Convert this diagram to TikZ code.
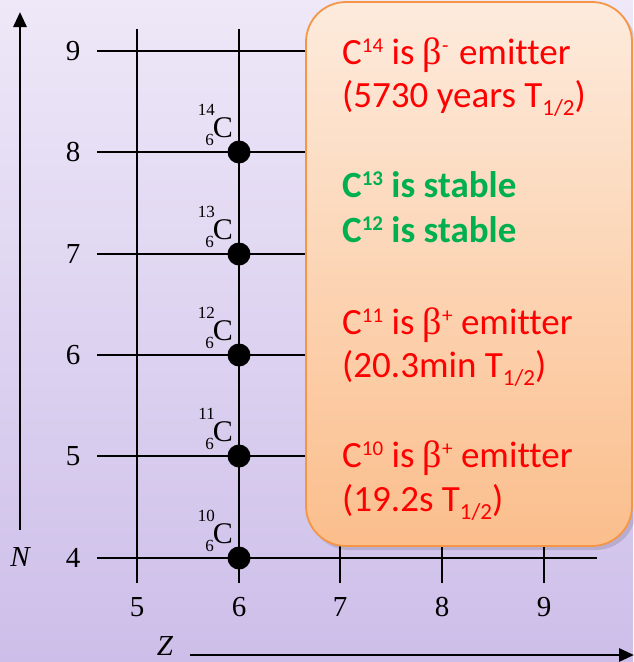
\documentclass[tikz,border=0pt]{standalone}
\usepackage{fontspec}
\setmainfont{Liberation Serif}
\newfontfamily\boxfont[Ligatures=NoCommon]{Carlito}
\newfontfamily\betafont{Liberation Serif}
\usetikzlibrary{arrows.meta}
\definecolor{bgtop}{RGB}{238,232,248}
\definecolor{bgbot}{RGB}{205,190,233}
\definecolor{boxtop}{RGB}{253,235,221}
\definecolor{boxbot}{RGB}{251,190,140}
\definecolor{boxline}{RGB}{245,150,70}
\definecolor{txtred}{RGB}{255,0,0}
\definecolor{txtgreen}{RGB}{0,176,80}
\newcommand\myup[1]{\raisebox{11.5pt}{\fontsize{21}{21}\selectfont #1}}
\newcommand\mydown[1]{\raisebox{-8.5pt}{\fontsize{23}{23}\selectfont #1}}
\newcommand\mybeta{{\betafont\fontsize{38}{38}\selectfont β}}
\begin{document}
\begin{tikzpicture}[x=1pt,y=-1pt,
  gridline/.style={line width=2.9pt,black},
  axisline/.style={line width=2.9pt,black,-{Triangle[length=15pt,width=13pt]}},
  ticklab/.style={font=\fontsize{29}{29}\selectfont,inner sep=0pt},
  axlab/.style={font=\fontsize{29}{29}\selectfont\itshape,inner sep=0pt},
  isoC/.style={font=\fontsize{30}{30}\selectfont,inner sep=0pt,anchor=base east},
  isonum/.style={font=\fontsize{17}{17}\selectfont,inner sep=0pt,anchor=base east},
  nucdot/.style={circle,fill=black,minimum size=23pt,inner sep=0pt},
  boxtxt/.style={font=\boxfont\fontsize{37}{37}\selectfont,inner sep=0pt,anchor=base west},
  redtxt/.style={boxtxt,text=txtred},
  greentxt/.style={boxtxt,text=txtgreen,font=\boxfont\bfseries\fontsize{37}{37}\selectfont}]
\useasboundingbox (0,0) rectangle (633,662);
\shade[top color=bgtop,bottom color=bgbot] (0,0) rectangle (633,662);
% grid
\foreach \n/\y in {4/558,5/456,6/355,7/254,8/152,9/51}{
  \coordinate (hL\n) at (97,\y);
  \coordinate (hR\n) at (597,\y);
  \draw[gridline] (hL\n) -- (hR\n);
  \node[ticklab] (nl\n) at (73,\y) {\n};
}
\foreach \z/\x in {5/137,6/239,7/340,8/442,9/544}{
  \coordinate (vT\z) at (\x,29);
  \coordinate (vB\z) at (\x,583);
  \draw[gridline] (vT\z) -- (vB\z);
  \node[ticklab] (zl\z) at (\x,607) {\z};
}
% axes
\coordinate (nS) at (20,530);
\coordinate (nE) at (20,12);
\draw[axisline] (nS) -- (nE);
\node[axlab] (Nlab) at (20,557) {N};
\coordinate (zS) at (190,655);
\coordinate (zE) at (634,655);
\draw[axisline] (zS) -- (zE);
\node[axlab] (Zlab) at (165,646) {Z};
% nuclides
\foreach \n/\a/\y in {4/10/558,5/11/456,6/12/355,7/13/254,8/14/152}{
  \node[nucdot] (d\n) at (239,\y) {};
  \node[isoC] (c\n) at (233,\y-15) {C};
  \node[isonum] (a\n) at (215,\y-37) {\a};
  \node[isonum] (z\n) at (214,\y-7) {6};
}
% text box
\fill[black,opacity=0.12,rounded corners=40pt] (309,6) rectangle (636,550);
\shade[top color=boxtop,bottom color=boxbot,rounded corners=40pt] (306,2) rectangle (632,546);
\draw[boxline,line width=1.8pt,rounded corners=40pt] (306,2) rectangle (632,546);
\node[redtxt] (t1) at (342,64) {C\myup{14} is \mybeta\myup{-}\kern2pt{} emitter};
\node[redtxt] (t2) at (342,107) {(5730 years T\mydown{1/2})};
\node[greentxt] (t3) at (342,197) {C\myup{13} is stable};
\node[greentxt] (t4) at (342,242) {C\myup{12} is stable};
\node[redtxt] (t5) at (342,334) {C\myup{11} is \mybeta\myup{+} emitter};
\node[redtxt] (t6) at (342,377) {(20.3min T\mydown{1/2})};
\node[redtxt] (t7) at (342,467) {C\myup{10} is \mybeta\myup{+} emitter};
\node[redtxt] (t8) at (342,511) {(19.2s T\mydown{1/2})};
\end{tikzpicture}
\end{document}
